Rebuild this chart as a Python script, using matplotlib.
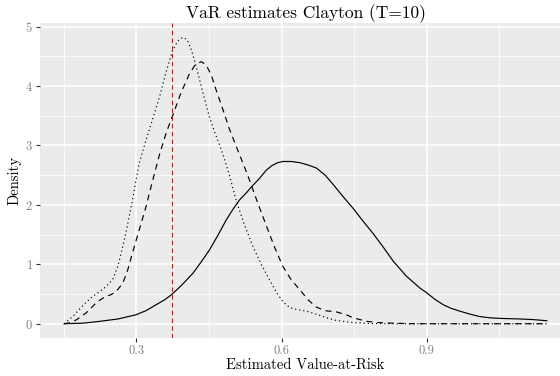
import matplotlib
matplotlib.use("Agg")
import matplotlib.pyplot as plt

plt.rcParams['font.family'] = 'cmr10'
plt.rcParams['axes.formatter.use_mathtext'] = True

# density curves (x, density)
dotted_x = [0.151, 0.161, 0.172, 0.182, 0.196, 0.210, 0.222, 0.234, 0.243, 0.251, 0.262,
            0.272, 0.279, 0.292, 0.299, 0.306, 0.320, 0.334, 0.348, 0.362, 0.375, 0.386,
            0.396, 0.405, 0.414, 0.424, 0.437, 0.451, 0.462, 0.472, 0.483, 0.493, 0.507,
            0.524, 0.541, 0.558, 0.575, 0.590, 0.603, 0.617, 0.631, 0.652, 0.672, 0.693,
            0.710, 0.727, 0.747, 0.780, 0.820, 1.148]
dotted_y = [0.0, 0.07, 0.15, 0.24, 0.36, 0.46, 0.53, 0.60, 0.67, 0.74, 0.97,
            1.30, 1.55, 2.08, 2.40, 2.70, 3.09, 3.45, 3.82, 4.25, 4.60, 4.76,
            4.82, 4.78, 4.60, 4.32, 3.90, 3.48, 3.22, 3.01, 2.75, 2.48, 2.05,
            1.65, 1.30, 1.00, 0.74, 0.52, 0.37, 0.27, 0.24, 0.21, 0.16, 0.10,
            0.06, 0.04, 0.02, 0.005, 0.0, 0.0]

dashed_x = [0.151, 0.165, 0.177, 0.196, 0.207, 0.217, 0.227, 0.237, 0.248, 0.258, 0.272,
            0.282, 0.292, 0.306, 0.320, 0.334, 0.348, 0.362, 0.375, 0.392, 0.410, 0.422,
            0.434, 0.444, 0.455, 0.465, 0.479, 0.493, 0.512, 0.531, 0.550, 0.569, 0.586,
            0.603, 0.620, 0.638, 0.655, 0.672, 0.690, 0.713, 0.734, 0.748, 0.762, 0.776,
            0.800, 0.830, 0.870, 1.148]
dashed_y = [0.0, 0.02, 0.07, 0.18, 0.27, 0.35, 0.41, 0.46, 0.49, 0.54, 0.68,
            0.90, 1.19, 1.58, 1.97, 2.42, 2.85, 3.22, 3.50, 3.88, 4.21, 4.36,
            4.41, 4.36, 4.18, 3.93, 3.60, 3.26, 2.87, 2.48, 2.05, 1.64, 1.28,
            0.96, 0.74, 0.57, 0.40, 0.28, 0.22, 0.20, 0.15, 0.10, 0.07, 0.04,
            0.02, 0.01, 0.0, 0.0]

solid_x = [0.151, 0.190, 0.224, 0.262, 0.299, 0.320, 0.341, 0.358, 0.373, 0.395, 0.417,
           0.434, 0.451, 0.468, 0.486, 0.500, 0.513, 0.527, 0.541, 0.555, 0.568, 0.580,
           0.592, 0.603, 0.620, 0.638, 0.655, 0.672, 0.690, 0.707, 0.727, 0.748, 0.768,
           0.789, 0.810, 0.831, 0.845, 0.858, 0.872, 0.886, 0.900, 0.917, 0.934, 0.950,
           0.969, 0.990, 1.010, 1.030, 1.051, 1.093, 1.120, 1.148]
solid_y = [0.0, 0.01, 0.04, 0.08, 0.15, 0.22, 0.32, 0.40, 0.49, 0.66, 0.85,
           1.04, 1.24, 1.48, 1.75, 1.93, 2.08, 2.20, 2.33, 2.45, 2.58, 2.66,
           2.71, 2.73, 2.73, 2.71, 2.67, 2.62, 2.50, 2.34, 2.14, 1.94, 1.73,
           1.52, 1.29, 1.05, 0.92, 0.80, 0.70, 0.60, 0.52, 0.41, 0.32, 0.26,
           0.21, 0.16, 0.12, 0.10, 0.09, 0.08, 0.07, 0.05]

var_true = 0.3727
x_ticks = [0.3, 0.6, 0.9]
y_ticks = [0, 1, 2, 3, 4, 5]

fig = plt.figure(figsize=(5.6, 3.76), dpi=100)
ax = fig.add_axes([40 / 560, 38 / 376, 531 / 560, 315 / 376])
ax.set_facecolor('#EBEBEB')
for s in ax.spines.values():
    s.set_visible(False)

ax.set_xlim(0.101, 1.198)
ax.set_ylim(-0.24, 5.06)
ax.set_xticks(x_ticks)
ax.set_xticklabels([f"{t:.1f}" for t in x_ticks])
ax.set_yticks(y_ticks)
ax.set_xticks([0.15, 0.45, 0.75, 1.05], minor=True)
ax.set_yticks([0.5, 1.5, 2.5, 3.5, 4.5], minor=True)
ax.grid(True, which='major', color='white', lw=1.1)
ax.grid(True, which='minor', color='white', lw=0.55)
ax.set_axisbelow(True)
ax.tick_params(which='major', length=3, width=0.8, color='#333333', labelcolor='#7F7F7F',
               labelsize=9, pad=2)
ax.tick_params(which='minor', length=0)

ax.plot(solid_x, solid_y, color='black', lw=0.85, ls='-')
ax.plot(dashed_x, dashed_y, color='black', lw=0.85, ls=(0, (5, 4)))
ax.plot(dotted_x, dotted_y, color='black', lw=0.85, ls=(0, (1, 2.5)))
ax.axvline(var_true, color='red', lw=0.8, ls=(0, (4, 3)))

ax.set_title('VaR estimates Clayton (T=10)', fontsize=12.5, pad=3)
ax.set_xlabel('Estimated Value-at-Risk', fontsize=10.5, labelpad=1)
ax.set_ylabel('Density', fontsize=10.5, labelpad=3)

fig.savefig('out.png', dpi=100)
